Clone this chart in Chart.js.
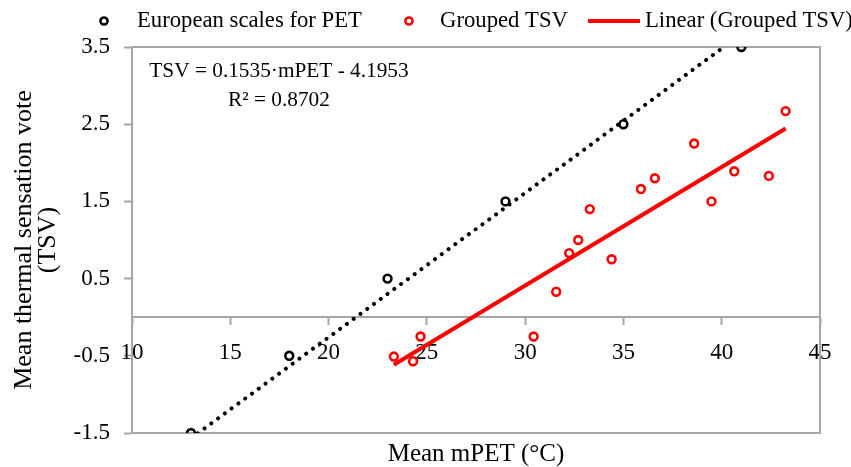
<!DOCTYPE html>
<html><head><meta charset="utf-8">
<script src="https://cdn.jsdelivr.net/npm/chart.js@4.4.1/dist/chart.umd.min.js"></script>
<style>html,body{margin:0;padding:0;background:#fff;} #wrap{width:851px;height:467px;position:relative;}</style>
</head><body><div id="wrap"><canvas id="c" width="851" height="467"></canvas></div>
<script>
// ---- data ----
const europeanPET = [13, 18, 23, 29, 35, 41];
const europeanTSV = [-1.5, -0.5, 0.5, 1.5, 2.5, 3.5];
const groupedPET = [23.32, 24.30, 24.68, 30.43, 31.58, 32.24, 32.70, 33.29, 34.40, 35.89, 36.60, 38.60, 39.48, 40.64, 42.40, 43.25];
const groupedTSV = [-0.51, -0.57, -0.25, -0.25, 0.33, 0.83, 1.00, 1.40, 0.75, 1.66, 1.80, 2.25, 1.50, 1.89, 1.83, 2.67];
const groupedFit = [0.1535, -4.1953];   // slope, intercept
const groupedR2 = 0.8702;
const europeanFit = [0.187, -4.0];      // slope, intercept of dotted trend
const xTicks = [10, 15, 20, 25, 30, 35, 40, 45];
const yTicks = [-1.5, -0.5, 0.5, 1.5, 2.5, 3.5];
const seriesNames = ['European scales for PET', 'Grouped TSV', 'Linear (Grouped TSV)'];
const xTitle = 'Mean mPET (°C)';
const yTitle = ['Mean thermal sensation vote', '(TSV)'];

// ---- helpers ----
const toPoints = (xs, ys) => xs.map((x, i) => ({x, y: ys[i]}));
const fitLine = (fit, xs) => [Math.min(...xs), Math.max(...xs)].map(x => ({x, y: fit[0] * x + fit[1]}));
const FONT = '"Liberation Serif", "Times New Roman", serif';
const GRAY = '#a6a6a6';
const RED = '#ff0000';

const decor = {
  id: 'decor',
  beforeDraw(chart) {
    const ctx = chart.ctx;
    ctx.save(); ctx.fillStyle = '#fff'; ctx.fillRect(0, 0, chart.width, chart.height); ctx.restore();
  },
  beforeDatasetsDraw(chart) {
    const {ctx, chartArea: a} = chart;
    ctx.save();
    ctx.strokeStyle = GRAY; ctx.lineWidth = 2;
    ctx.strokeRect(a.left, a.top, a.right - a.left, a.bottom - a.top);
    ctx.restore();
  },
  afterDraw(chart) {
    const {ctx, chartArea: a} = chart;
    ctx.save();
    // legend
    const ly = 21;
    ctx.font = '22.7px ' + FONT;
    ctx.textBaseline = 'middle';
    ctx.textAlign = 'left';
    ctx.fillStyle = '#000';
    ctx.lineWidth = 2.5;
    ctx.strokeStyle = '#000';
    ctx.beginPath(); ctx.arc(104, ly, 3.6, 0, Math.PI * 2); ctx.stroke();
    ctx.fillText(seriesNames[0], 137, ly);
    ctx.strokeStyle = RED;
    ctx.beginPath(); ctx.arc(409, ly, 3.6, 0, Math.PI * 2); ctx.stroke();
    ctx.fillText(seriesNames[1], 440, ly);
    ctx.lineWidth = 4;
    ctx.beginPath(); ctx.moveTo(588, ly); ctx.lineTo(640, ly); ctx.stroke();
    ctx.fillText(seriesNames[2], 645, ly);
    // equation
    ctx.font = '21.3px ' + FONT;
    ctx.textAlign = 'center';
    const eq1 = 'TSV = ' + groupedFit[0].toFixed(4) + '\u00b7mPET ' + (groupedFit[1] < 0 ? '- ' : '+ ') + Math.abs(groupedFit[1]).toFixed(4);
    const eq2 = 'R\u00b2 = ' + groupedR2.toFixed(4);
    ctx.fillText(eq1, 279, 71);
    ctx.fillText(eq2, 279, 100);
    // x title
    ctx.font = '25px ' + FONT;
    ctx.fillText(xTitle, (a.left + a.right) / 2, 454);
    ctx.restore();
  }
};

new Chart(document.getElementById('c'), {
  type: 'scatter',
  data: {
    datasets: [
      { label: seriesNames[0], data: toPoints(europeanPET, europeanTSV),
        pointRadius: 3.9, pointBorderWidth: 2.6, borderColor: '#000', backgroundColor: 'rgba(0,0,0,0)', pointHoverRadius: 3.9 },
      { label: seriesNames[1], data: toPoints(groupedPET, groupedTSV),
        pointRadius: 3.9, pointBorderWidth: 2.6, borderColor: RED, backgroundColor: 'rgba(0,0,0,0)', pointHoverRadius: 3.9 },
      { label: seriesNames[2], data: fitLine(groupedFit, groupedPET), showLine: true,
        pointRadius: 0, borderColor: RED, borderWidth: 4, borderCapStyle: 'butt' },
      { label: 'trend-european', data: fitLine(europeanFit, europeanPET), showLine: true,
        pointRadius: 0, borderColor: '#000', borderWidth: 4, borderCapStyle: 'round', borderDash: [0.01, 8.4] }
    ]
  },
  options: {
    responsive: false,
    animation: false,
    devicePixelRatio: 1,
    layout: { padding: { top: 47, right: 31, bottom: 34, left: 0 } },
    plugins: { legend: { display: false }, tooltip: { enabled: false } },
    scales: {
      x: {
        type: 'linear', position: { y: 0 }, min: 10, max: 45,
        afterBuildTicks: s => { s.ticks = xTicks.map(v => ({value: v})); },
        grid: { drawOnChartArea: false, drawTicks: true, tickLength: 7, tickColor: GRAY, tickWidth: 2 },
        border: { display: true, color: GRAY, width: 2 },
        ticks: { color: '#000', font: { family: FONT, size: 23 }, padding: 15, maxRotation: 0, autoSkip: false }
      },
      y: {
        type: 'linear', position: 'left', min: -1.5, max: 3.5,
        afterBuildTicks: s => { s.ticks = yTicks.map(v => ({value: v})); },
        afterFit: s => { s.width = 132; },
        grid: { drawOnChartArea: false, drawTicks: true, tickLength: 8, tickColor: GRAY, tickWidth: 2 },
        border: { display: true, color: GRAY, width: 2 },
        ticks: { color: '#000', font: { family: FONT, size: 23 }, padding: 14, callback: v => String(v) },
        title: { display: true, text: yTitle, color: '#000', font: { family: FONT, size: 26, lineHeight: 0.92 }, padding: { top: 12, bottom: 0 } }
      }
    }
  },
  plugins: [decor]
});
</script></body></html>
